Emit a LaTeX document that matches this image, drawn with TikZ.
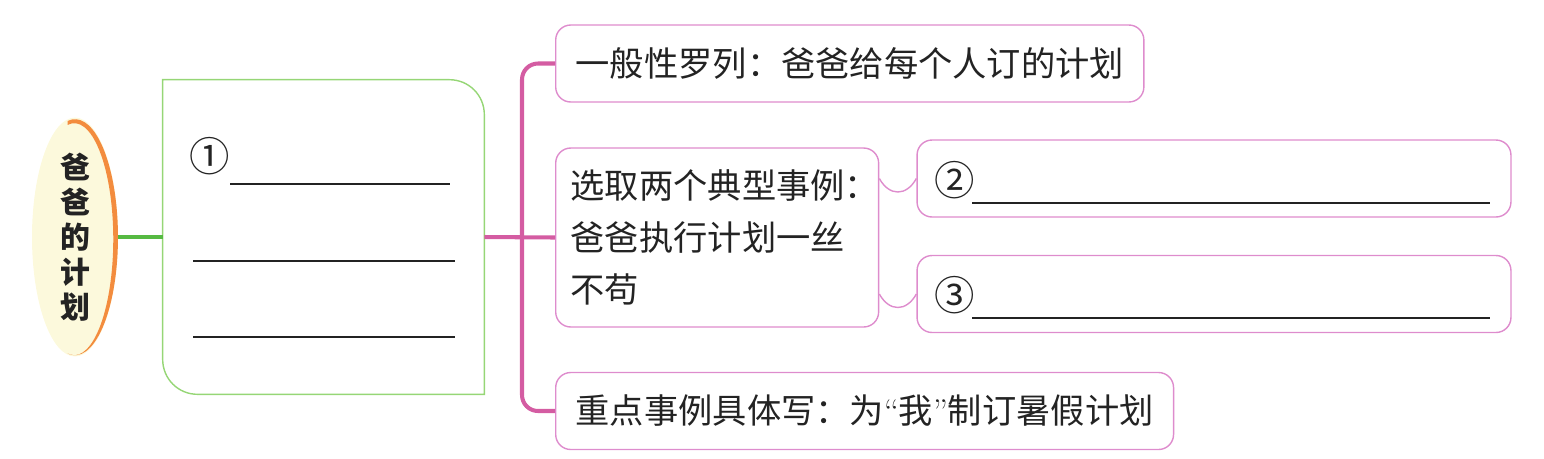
\documentclass[tikz,border=0pt]{standalone}
\usepackage{fontspec}
\newfontfamily\cjk{Noto Sans CJK SC}
\usetikzlibrary{shapes.geometric}
\definecolor{pinkline}{RGB}{222,140,205}
\definecolor{bracketpink}{RGB}{212,92,162}
\definecolor{leafgreen}{RGB}{150,214,118}
\definecolor{stemgreen}{RGB}{86,186,66}
\definecolor{ovalcream}{RGB}{252,249,220}
\definecolor{ovalrim}{RGB}{243,140,62}
\definecolor{ink}{RGB}{35,35,35}
\begin{document}
\begin{tikzpicture}[x=0.02cm,y=-0.02cm,every node/.style={font=\cjk\fontsize{19.5}{29.5}\selectfont,text=ink},
  plan/.style={draw=pinkline,line width=0.8pt,rounded corners=0.3cm,minimum height=1.54cm,inner xsep=0.4cm,anchor=west,align=left},
  blank/.style={draw=pinkline,line width=0.8pt,rounded corners=0.3cm,minimum width=11.88cm,minimum height=1.54cm},
  numbr/.style={font=\cjk\fontsize{23}{25}\selectfont},
  fillin/.style={ink,line width=1.2pt}]
% Dad's plan: outline of the essay
\useasboundingbox (0,0) rectangle (1544,458);
\node[ellipse,fill=ovalcream,minimum width=1.72cm,minimum height=4.72cm,inner sep=0pt,align=center,font=\cjk\bfseries\fontsize{17}{20}\selectfont] (dad) at (75,237) {爸\\爸\\的\\计\\划};
\fill[ovalrim] (67.5,121) arc[start angle=-100,end angle=100,x radius=43,y radius=118] arc[start angle=100,end angle=-100,x radius=39,y radius=116] -- cycle;
\node[minimum width=6.42cm,minimum height=6.28cm] (gbox) at (323.5,237) {};
\draw[leafgreen,line width=0.8pt] (gbox.north west) -- ([xshift=-0.7cm]gbox.north east) .. controls ([xshift=-0.31cm]gbox.north east) and ([yshift=-0.31cm]gbox.north east) .. ([yshift=-0.7cm]gbox.north east) -- (gbox.south east) -- ([xshift=0.7cm]gbox.south west) .. controls ([xshift=0.31cm]gbox.south west) and ([yshift=0.31cm]gbox.south west) .. ([yshift=0.7cm]gbox.south west) -- cycle;
\node[numbr] (n1) at (210,156) {①};
\draw[fillin] (230,184) -- (450,184);
\draw[fillin] (193,261) -- (455,261);
\draw[fillin] (193,337) -- (455,337);
\draw[stemgreen,line width=2.3pt] (dad.east) -- (dad.east -| gbox.west);
\node[plan] (general) at (555,63.5) {一般性罗列：爸爸给每个人订的计划};
\node[plan,minimum height=3.58cm,inner xsep=0.3cm] (typical) at (555,237.5) {选取两个典型事例：\kern-0.45em\\爸爸执行计划一丝\\不苟};
\node[plan] (focus) at (555,411) {重点事例具体写：为{\normalfont“}我{\normalfont”}制订暑假计划};
\node[blank] (two) at (1214,178.5) {};
\node[blank] (three) at (1214,294) {};
\node[numbr] (n2) at (955,180) {②};
\draw[fillin] (972,203) -- (1490,203);
\node[numbr] (n3) at (955,295) {③};
\draw[fillin] (972,318) -- (1490,318);
\coordinate (fork) at (522,237);
\draw[bracketpink,line width=2.3pt,rounded corners=0.32cm] (general.west) -| (fork) |- (focus.west);
\draw[bracketpink,line width=2.3pt] (gbox.east) -- (typical.west);
\draw[pinkline,line width=0.8pt] (typical.east |- two.west) .. controls +(10,18) and +(-10,18) .. (two.west);
\draw[pinkline,line width=0.8pt] (typical.east |- three.west) .. controls +(10,18) and +(-10,18) .. (three.west);
\end{tikzpicture}
\end{document}
